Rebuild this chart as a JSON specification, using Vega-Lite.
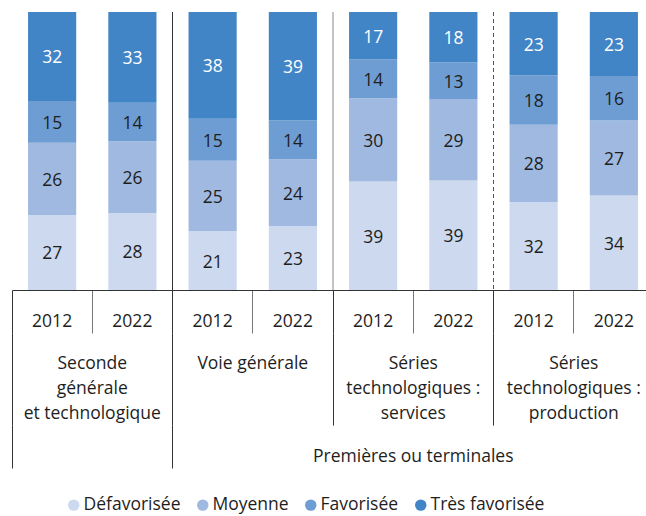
{
  "$schema": "https://vega.github.io/schema/vega-lite/v6.json",
  "autosize": {"type": "none"},
  "padding": {"left": 12, "top": 12, "right": 0, "bottom": 226},
  "width": 634,
  "height": 278,
  "background": "white",
  "config": {"font": "Open Sans", "view": {"stroke": null}},
  "datasets": {
    "shares": [
      {"group": "Seconde\ngénérale\net technologique", "bar": "Seconde 2012", "year": "2012", "category": "Défavorisée", "rank": 1, "pct": 27},
      {"group": "Seconde\ngénérale\net technologique", "bar": "Seconde 2012", "year": "2012", "category": "Moyenne", "rank": 2, "pct": 26},
      {"group": "Seconde\ngénérale\net technologique", "bar": "Seconde 2012", "year": "2012", "category": "Favorisée", "rank": 3, "pct": 15},
      {"group": "Seconde\ngénérale\net technologique", "bar": "Seconde 2012", "year": "2012", "category": "Très favorisée", "rank": 4, "pct": 32},
      {"group": "Seconde\ngénérale\net technologique", "bar": "Seconde 2022", "year": "2022", "category": "Défavorisée", "rank": 1, "pct": 28},
      {"group": "Seconde\ngénérale\net technologique", "bar": "Seconde 2022", "year": "2022", "category": "Moyenne", "rank": 2, "pct": 26},
      {"group": "Seconde\ngénérale\net technologique", "bar": "Seconde 2022", "year": "2022", "category": "Favorisée", "rank": 3, "pct": 14},
      {"group": "Seconde\ngénérale\net technologique", "bar": "Seconde 2022", "year": "2022", "category": "Très favorisée", "rank": 4, "pct": 33},
      {"group": "Voie générale", "bar": "Voie générale 2012", "year": "2012", "category": "Défavorisée", "rank": 1, "pct": 21},
      {"group": "Voie générale", "bar": "Voie générale 2012", "year": "2012", "category": "Moyenne", "rank": 2, "pct": 25},
      {"group": "Voie générale", "bar": "Voie générale 2012", "year": "2012", "category": "Favorisée", "rank": 3, "pct": 15},
      {"group": "Voie générale", "bar": "Voie générale 2012", "year": "2012", "category": "Très favorisée", "rank": 4, "pct": 38},
      {"group": "Voie générale", "bar": "Voie générale 2022", "year": "2022", "category": "Défavorisée", "rank": 1, "pct": 23},
      {"group": "Voie générale", "bar": "Voie générale 2022", "year": "2022", "category": "Moyenne", "rank": 2, "pct": 24},
      {"group": "Voie générale", "bar": "Voie générale 2022", "year": "2022", "category": "Favorisée", "rank": 3, "pct": 14},
      {"group": "Voie générale", "bar": "Voie générale 2022", "year": "2022", "category": "Très favorisée", "rank": 4, "pct": 39},
      {"group": "Séries\ntechnologiques :\nservices", "bar": "Services 2012", "year": "2012", "category": "Défavorisée", "rank": 1, "pct": 39},
      {"group": "Séries\ntechnologiques :\nservices", "bar": "Services 2012", "year": "2012", "category": "Moyenne", "rank": 2, "pct": 30},
      {"group": "Séries\ntechnologiques :\nservices", "bar": "Services 2012", "year": "2012", "category": "Favorisée", "rank": 3, "pct": 14},
      {"group": "Séries\ntechnologiques :\nservices", "bar": "Services 2012", "year": "2012", "category": "Très favorisée", "rank": 4, "pct": 17},
      {"group": "Séries\ntechnologiques :\nservices", "bar": "Services 2022", "year": "2022", "category": "Défavorisée", "rank": 1, "pct": 39},
      {"group": "Séries\ntechnologiques :\nservices", "bar": "Services 2022", "year": "2022", "category": "Moyenne", "rank": 2, "pct": 29},
      {"group": "Séries\ntechnologiques :\nservices", "bar": "Services 2022", "year": "2022", "category": "Favorisée", "rank": 3, "pct": 13},
      {"group": "Séries\ntechnologiques :\nservices", "bar": "Services 2022", "year": "2022", "category": "Très favorisée", "rank": 4, "pct": 18},
      {"group": "Séries\ntechnologiques :\nproduction", "bar": "Production 2012", "year": "2012", "category": "Défavorisée", "rank": 1, "pct": 32},
      {"group": "Séries\ntechnologiques :\nproduction", "bar": "Production 2012", "year": "2012", "category": "Moyenne", "rank": 2, "pct": 28},
      {"group": "Séries\ntechnologiques :\nproduction", "bar": "Production 2012", "year": "2012", "category": "Favorisée", "rank": 3, "pct": 18},
      {"group": "Séries\ntechnologiques :\nproduction", "bar": "Production 2012", "year": "2012", "category": "Très favorisée", "rank": 4, "pct": 23},
      {"group": "Séries\ntechnologiques :\nproduction", "bar": "Production 2022", "year": "2022", "category": "Défavorisée", "rank": 1, "pct": 34},
      {"group": "Séries\ntechnologiques :\nproduction", "bar": "Production 2022", "year": "2022", "category": "Moyenne", "rank": 2, "pct": 27},
      {"group": "Séries\ntechnologiques :\nproduction", "bar": "Production 2022", "year": "2022", "category": "Favorisée", "rank": 3, "pct": 16},
      {"group": "Séries\ntechnologiques :\nproduction", "bar": "Production 2022", "year": "2022", "category": "Très favorisée", "rank": 4, "pct": 23}
    ],
    "separators": [
      {"group": "Voie générale"},
      {"group": "Séries\ntechnologiques :\nservices"},
      {"group": "Séries\ntechnologiques :\nproduction"}
    ]
  },
  "layer": [
    {
      "data": {"name": "shares"},
      "mark": {"type": "bar"},
      "encoding": {
        "x": {
          "field": "group", "type": "nominal", "sort": null,
          "scale": {"domain": ["Seconde\ngénérale\net technologique", "Voie générale", "Séries\ntechnologiques :\nservices", "Séries\ntechnologiques :\nproduction"], "range": [0, 642], "paddingInner": 0, "paddingOuter": 0},
          "axis": {
            "orient": "bottom", "offset": 43, "domain": false, "grid": false, "title": null,
            "bandPosition": 0, "tickSize": 92, "tickColor": "#333", "tickWidth": 1,
            "labelExpr": "split(datum.value, '\\n')",
            "labelFont": "Open Sans", "labelFontSize": 17.5, "labelColor": "#1e1e1e",
            "labelBaseline": "top", "labelPadding": -71, "labelLineHeight": 25,
            "labelAngle": 0, "labelOverlap": false, "labelLimit": 0
          }
        },
        "xOffset": {"field": "year", "type": "nominal", "scale": {"paddingInner": 0.4, "paddingOuter": 0.2}},
        "y": {"field": "pct", "type": "quantitative", "stack": "normalize", "scale": {"domain": [0, 1], "nice": false}, "axis": null},
        "color": {
          "field": "category", "type": "nominal",
          "scale": {"domain": ["Défavorisée", "Moyenne", "Favorisée", "Très favorisée"], "range": ["#ccd9ef", "#a0b9e1", "#6e9dd4", "#4285c7"]},
          "legend": {
            "orient": "none", "legendX": 53, "legendY": 484, "direction": "horizontal", "columns": 4,
            "title": null, "symbolType": "circle", "symbolSize": 130, "symbolStrokeWidth": 0,
            "labelFont": "Open Sans", "labelFontSize": 17.5, "labelColor": "#1e1e1e",
            "labelOffset": 1, "columnPadding": 13, "padding": 0
          }
        },
        "order": {"field": "rank", "type": "quantitative"}
      }
    },
    {
      "data": {"name": "shares"},
      "transform": [
        {"stack": "pct", "groupby": ["bar"], "sort": [{"field": "rank", "order": "ascending"}], "offset": "normalize", "as": ["y0", "y1"]},
        {"fold": ["y0", "y1"], "as": ["edge", "pos"]}
      ],
      "mark": {"type": "text", "font": "Open Sans", "fontSize": 17.5, "baseline": "middle", "dy": 2},
      "encoding": {
        "x": {
          "field": "bar", "type": "nominal", "sort": null,
          "scale": {"type": "band", "range": [0, 642], "paddingInner": 0, "paddingOuter": 0},
          "axis": {
            "orient": "bottom", "offset": 0, "domain": true, "domainColor": "#333", "domainWidth": 1,
            "grid": false, "title": null, "bandPosition": 0, "tickSize": 43, "tickWidth": 1,
            "tickColor": {"condition": {"test": "indexof(datum.value, '2012') >= 0", "value": "#333"}, "value": "#777"},
            "labelExpr": "slice(datum.value, -4)",
            "labelFont": "Open Sans", "labelFontSize": 17.5, "labelColor": "#1e1e1e",
            "labelBaseline": "top", "labelPadding": -21, "labelAngle": 0, "labelOverlap": false
          }
        },
        "y": {"field": "pos", "type": "quantitative", "aggregate": "mean", "axis": null},
        "detail": {"field": "category", "type": "nominal"},
        "text": {"field": "pct", "type": "quantitative"},
        "color": {"condition": {"test": "datum.category === 'Très favorisée'", "value": "white"}, "value": "#1e1e1e"}
      }
    },
    {
      "data": {"name": "separators"},
      "mark": {"type": "rule", "strokeWidth": 1},
      "encoding": {
        "x": {
          "field": "group", "type": "nominal", "sort": null, "bandPosition": 0,
          "scale": {"domain": ["Seconde\ngénérale\net technologique", "Voie générale", "Séries\ntechnologiques :\nservices", "Séries\ntechnologiques :\nproduction"], "range": [0, 642], "paddingInner": 0, "paddingOuter": 0},
          "axis": {
            "orient": "bottom", "offset": 135, "domain": false, "grid": false, "title": null,
            "bandPosition": 0, "values": ["Seconde\ngénérale\net technologique", "Voie générale", "Séries\ntechnologiques :\nservices"],
            "tickSize": 43, "tickColor": "#333", "tickWidth": 1,
            "tickOpacity": {"condition": {"test": "indexof(datum.value, 'services') >= 0", "value": 0}, "value": 1},
            "labelExpr": "indexof(datum.value, 'services') >= 0 ? 'Premières ou terminales' : ''",
            "labelFont": "Open Sans", "labelFontSize": 17.5, "labelColor": "#1e1e1e",
            "labelBaseline": "top", "labelPadding": -21, "labelAngle": 0, "labelOverlap": false, "labelLimit": 0
          }
        },
        "color": {
          "condition": [
            {"test": "datum.group === 'Voie générale'", "value": "#333"},
            {"test": "indexof(datum.group, 'services') >= 0", "value": "#888"}
          ],
          "value": "#555"
        },
        "strokeDash": {"condition": {"test": "indexof(datum.group, 'production') >= 0", "value": [4, 3]}, "value": [1, 0]}
      }
    }
  ],
  "resolve": {"scale": {"x": "independent"}, "axis": {"x": "independent"}}
}
